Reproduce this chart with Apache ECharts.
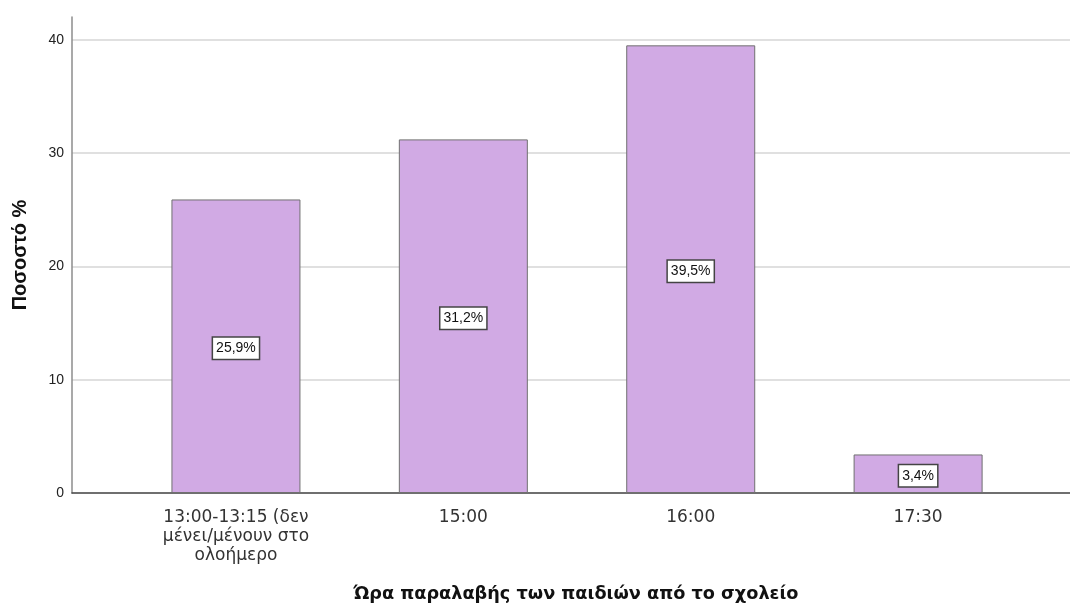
<!DOCTYPE html>
<html>
<head>
<meta charset="utf-8">
<script src="https://cdn.jsdelivr.net/npm/echarts@6/dist/echarts.min.js"></script>
<style>
html,body{margin:0;padding:0;background:#fff;}
#chart{width:1070px;height:607px;}
</style>
</head>
<body>
<div id="chart"></div>
<script>
const categories = ['13:00-13:15 (δεν\nμένει/μένουν στο\nολοήμερο', '15:00', '16:00', '17:30'];
const values = [25.9, 31.2, 39.5, 3.4];
const valueLabels = ['25,9%', '31,2%', '39,5%', '3,4%'];
const yTicks = [0, 10, 20, 30, 40];
const xTitle = 'Ώρα παραλαβής των παιδιών από το σχολείο';
const yTitle = 'Ποσοστό %';

const chart = echarts.init(document.getElementById('chart'), null, {renderer: 'canvas'});
const positions = categories.map((c, i) => i);
chart.setOption({
  animation: false,
  backgroundColor: '#ffffff',
  grid: {left: 72, right: 0, top: 17, bottom: 114, containLabel: false, outerBoundsMode: 'none'},
  xAxis: {
    type: 'value',
    min: -0.721,
    max: 3.668,
    splitLine: {show: false},
    axisTick: {show: false},
    axisLine: {show: true, onZero: false, lineStyle: {color: '#4a4a4a', width: 1.5}},
    axisLabel: {
      customValues: positions,
      formatter: v => categories[Math.round(v)] || '',
      fontFamily: 'DejaVu Sans',
      fontSize: 17,
      lineHeight: 19,
      color: '#333',
      margin: 15,
      showMinLabel: true,
      showMaxLabel: true
    },
    name: xTitle,
    nameLocation: 'middle',
    nameGap: 92,
    nameTextStyle: {fontFamily: 'DejaVu Sans', fontWeight: 'bold', fontSize: 17.7, color: '#111', padding: [0, 0, 0, 10]}
  },
  yAxis: {
    type: 'value',
    min: 0,
    max: 42,
    interval: 10,
    axisLine: {show: true, onZero: false, lineStyle: {color: '#8c8c8c', width: 1.5}},
    axisTick: {show: false},
    splitLine: {show: true, showMaxLine: false, lineStyle: {color: '#d6d6d6', width: 1.5}},
    axisLabel: {
      customValues: yTicks,
      fontFamily: 'Liberation Sans',
      fontSize: 14,
      color: '#222',
      margin: 8
    },
    name: yTitle,
    nameLocation: 'middle',
    nameGap: 42,
    nameRotate: 90,
    nameTextStyle: {fontFamily: 'Liberation Sans', fontWeight: 'bold', fontSize: 20, color: '#111'}
  },
  series: [{
    type: 'bar',
    data: values.map((v, i) => [positions[i], v]),
    barWidth: 129,
    itemStyle: {color: '#D1AAE4', borderColor: '#707070', borderWidth: 1},
    label: {
      show: true,
      position: 'inside',
      offset: [0, 2],
      formatter: p => valueLabels[p.dataIndex],
      fontFamily: 'Liberation Sans',
      fontSize: 14,
      lineHeight: 16,
      color: '#111',
      backgroundColor: '#ffffff',
      borderColor: '#444',
      borderWidth: 1.5,
      padding: [3, 3, 2, 3]
    }
  }]
});
</script>
</body>
</html>
